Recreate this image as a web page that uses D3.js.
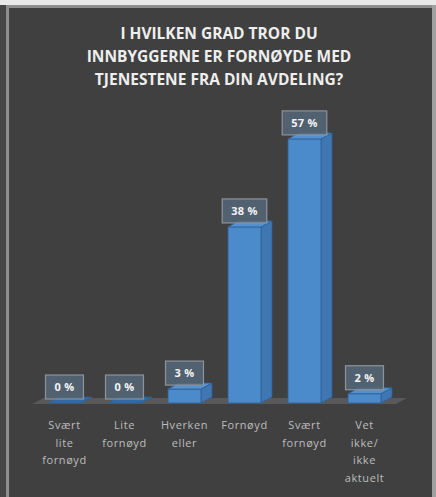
<!DOCTYPE html>
<html>
<head>
<meta charset="utf-8">
<script src="https://cdnjs.cloudflare.com/ajax/libs/d3/7.8.5/d3.min.js"></script>
<style>
  body { margin: 0; background: #fff; }
  svg { display: block; }
  .title { font-family: 'Open Sans', sans-serif; font-size: 15.5px; font-weight: bold; fill: #eeeeee; }
  .cat { font-family: 'Open Sans', sans-serif; font-size: 11px; fill: #bdbdbd; letter-spacing: 0.6px; }
  .val { font-family: 'Open Sans', sans-serif; font-size: 11px; font-weight: bold; fill: #f4f4f4; letter-spacing: 0.3px; }
</style>
</head>
<body>
<svg width="436" height="497"></svg>
<script>
const categories = ['Svært lite fornøyd', 'Lite fornøyd', 'Hverken eller', 'Fornøyd', 'Svært fornøyd', 'Vet ikke/ ikke aktuelt'];
const values = [0, 0, 3, 38, 57, 2];
const catLines = [['Svært', 'lite', 'fornøyd'], ['Lite', 'fornøyd'], ['Hverken', 'eller'], ['Fornøyd'], ['Svært', 'fornøyd'], ['Vet', 'ikke/', 'ikke', 'aktuelt']];
const titleLines = ['I HVILKEN GRAD TROR DU', 'INNBYGGERNE ER FORNØYDE MED', 'TJENESTENE FRA DIN AVDELING?'];

const svg = d3.select('svg');
const width = +svg.attr('width');
const height = +svg.attr('height');

// frame
svg.append('rect').attr('width', width).attr('height', height).attr('fill', '#e9e9e9');
svg.append('rect').attr('x', 0).attr('y', 5).attr('width', 6).attr('height', height).attr('fill', '#464646');
svg.append('rect').attr('x', 6).attr('y', 5).attr('width', 426).attr('height', height).attr('fill', '#8e8e8e');
svg.append('rect').attr('x', 432).attr('y', 5).attr('width', 4).attr('height', height).attr('fill', '#a0a0a0');
svg.append('rect').attr('x', 9).attr('y', 8).attr('width', 423).attr('height', height).attr('fill', '#404040');

// title
svg.append('text')
    .attr('class', 'title')
    .attr('text-anchor', 'middle')
    .selectAll('tspan').data(titleLines)
    .enter().append('tspan')
        .attr('x', 219)
        .attr('y', (d, i) => 39 + i * 23)
        .text(d => d);

const xScale = d3.scaleBand()
    .domain(categories)
    .range([34.5, 394.5])
    .paddingInner(0.45)
    .paddingOuter(0.225);

const yScale = d3.scaleLinear()
    .domain([0, 60])
    .range([403, 125]);

const dx = 11, dy = 6;
const y0 = yScale(0);
const bw = xScale.bandwidth();

const g = svg.append('g');

// floor
const [r0, r1] = xScale.range();
g.append('polygon')
    .attr('points', [[r0 - 2, y0 + 1], [r0 - 2 + dx, y0 + 1 - dy], [r1 + 1.5 + dx, y0 + 1 - dy], [r1 + 1.5, y0 + 1]].join(' '))
    .attr('fill', '#595959');

const data = categories.map((c, i) => ({ c, v: values[i], lines: catLines[i] }));

const bars = g.selectAll('g.bar').data(data)
    .enter().append('g').attr('class', 'bar');

// side
bars.filter(d => d.v > 0).append('polygon')
    .attr('points', d => {
        const x = xScale(d.c) + bw, y = yScale(d.v);
        return [[x, y], [x + dx, y - dy], [x + dx, y0 - dy], [x, y0]].join(' ');
    })
    .attr('fill', '#3f77b3')
    .attr('stroke', '#2f5f92')
    .attr('stroke-width', 0.8);

// front
bars.filter(d => d.v > 0).append('rect')
    .attr('x', d => xScale(d.c))
    .attr('y', d => yScale(d.v))
    .attr('width', bw)
    .attr('height', d => y0 - yScale(d.v))
    .attr('fill', '#4b8bcc')
    .attr('stroke', '#2f5f92')
    .attr('stroke-width', 0.8);

// top
bars.append('polygon')
    .attr('points', d => {
        const x = xScale(d.c), y = yScale(d.v);
        return [[x, y], [x + dx, y - dy], [x + bw + dx, y - dy], [x + bw, y]].join(' ');
    })
    .attr('fill', d => d.v > 0 ? '#5292d3' : '#2f6bac')
    .attr('stroke', '#2f5f92')
    .attr('stroke-width', 0.8);

// value labels
const fmt = v => `${d3.format('d')(v)} %`;
const lab = bars.append('g')
    .attr('transform', d => `translate(${xScale(d.c) + bw / 2}, ${yScale(d.v) - 4})`);
lab.append('rect')
    .attr('fill', '#556779')
    .attr('fill-opacity', 0.85)
    .attr('stroke', '#8d9399')
    .attr('stroke-width', 1.2);
const texts = lab.append('text')
    .attr('class', 'val')
    .attr('text-anchor', 'middle')
    .attr('y', -8)
    .text(d => fmt(d.v));
texts.each(function () {
    const w = this.getComputedTextLength();
    d3.select(this.previousSibling)
        .attr('x', -w / 2 - 9)
        .attr('y', -24)
        .attr('width', w + 18)
        .attr('height', 24);
});

// category labels
bars.append('text')
    .attr('class', 'cat')
    .attr('text-anchor', 'middle')
    .selectAll('tspan').data(d => d.lines.map(l => ({ l, x: xScale(d.c) + bw / 2 })))
    .enter().append('tspan')
        .attr('x', d => d.x)
        .attr('y', (d, i) => 429 + i * 17.7)
        .text(d => d.l);
</script>
</body>
</html>
